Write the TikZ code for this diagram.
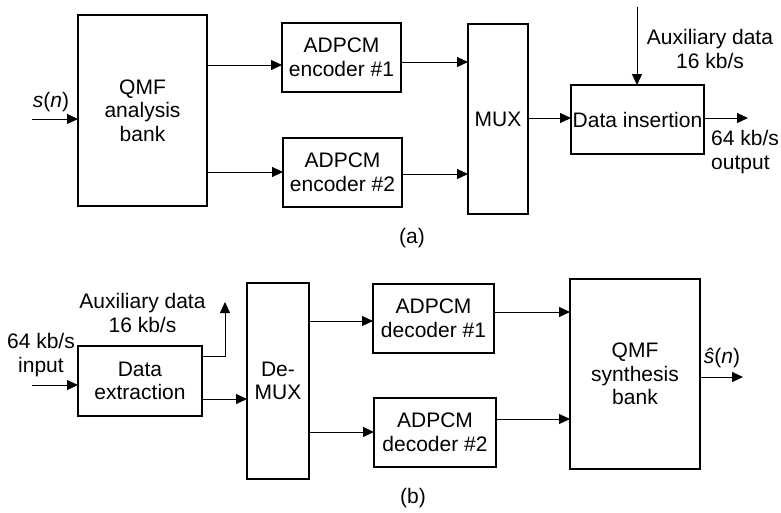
\documentclass[tikz,border=0pt]{standalone}
\usepackage{fontspec}
\setmainfont{Liberation Sans}
\usetikzlibrary{arrows.meta}
\newcommand{\fs}{\fontsize{21}{23.5}\selectfont}
\begin{document}
\begin{tikzpicture}[x=1pt,y=-1pt,
  box/.style={draw, line width=1.2pt, inner sep=0pt, outer sep=0pt, align=center, font=\fs},
  arr/.style={line width=1pt, -{Triangle[length=11pt,width=10pt]}},
  lbl/.style={inner sep=0pt, align=center, font=\fs}]
\useasboundingbox (0,0) rectangle (781,512);
% ---------- (a) ----------
\node[box, minimum width=129pt, minimum height=191pt] (qmfa) at (142.5,110.5) {QMF\\analysis\\bank};
\node[box, minimum width=119pt, minimum height=69pt] (enc1) at (341.5,57.5) {ADPCM\\encoder \#1};
\node[box, minimum width=119pt, minimum height=69pt] (enc2) at (342.5,172.5) {ADPCM\\encoder \#2};
\node[box, minimum width=60pt, minimum height=190pt] (mux) at (498,119) {MUX};
\node[box, minimum width=133pt, minimum height=69pt] (ins) at (637.5,119.5) {Data insertion};
\node[lbl] (sn) at (51,102) {\textit{s}(\textit{n})};
\node[lbl] (auxa) at (710,49) {Auxiliary data\\16 kb/s};
\node[lbl, align=left, anchor=west] (outa) at (711,152) {64 kb/s\\output};
\node[lbl] (capa) at (412,238) {(a)};
\coordinate (sin) at (32,119);
\coordinate (auxin) at (637,7);
\coordinate (aout) at (748,118);
\draw[arr] (sin) -- (qmfa.west |- sin);
\draw[arr] (qmfa.east |- 0,65) -- (enc1.west |- 0,65);
\draw[arr] (qmfa.east |- 0,172) -- (enc2.west |- 0,172);
\draw[arr] (enc1.east |- 0,62) -- (mux.west |- 0,62);
\draw[arr] (enc2.east |- 0,174) -- (mux.west |- 0,174);
\draw[arr] (mux.east |- 0,118) -- (ins.west |- 0,118);
\draw[arr] (auxin) -- (auxin |- ins.north);
\draw[arr] (ins.east |- aout) -- (aout);
% ---------- (b) ----------
\node[box, minimum width=124pt, minimum height=70pt] (ext) at (140,381) {Data\\extraction};
\node[box, minimum width=62pt, minimum height=196pt] (demux) at (278,381) {De-\\MUX};
\node[box, minimum width=121pt, minimum height=69pt] (dec1) at (433.5,318.5) {ADPCM\\decoder \#1};
\node[box, minimum width=122pt, minimum height=69pt] (dec2) at (435,432.5) {ADPCM\\decoder \#2};
\node[box, minimum width=130pt, minimum height=190pt] (qmfs) at (635,374) {QMF\\synthesis\\bank};
\node[lbl] (auxb) at (142.5,313) {Auxiliary data\\16 kb/s};
\node[lbl] (inb) at (41,355) {64 kb/s\\input};
\node[lbl] (shat) at (722,358) {\textit{ŝ}(\textit{n})};
\node[lbl] (capb) at (413,498) {(b)};
\coordinate (bin) at (32,385);
\coordinate (bauxt) at (225,302);
\coordinate (bout) at (743,377);
\draw[arr] (bin) -- (ext.west |- bin);
\draw[arr] (ext.east |- 0,356) -| (bauxt);
\draw[arr] (ext.east |- 0,399) -- (demux.west |- 0,399);
\draw[arr] (demux.east |- 0,321) -- (dec1.west |- 0,321);
\draw[arr] (demux.east |- 0,432) -- (dec2.west |- 0,432);
\draw[arr] (dec1.east |- 0,312) -- (qmfs.west |- 0,312);
\draw[arr] (dec2.east |- 0,419) -- (qmfs.west |- 0,419);
\draw[arr] (qmfs.east |- bout) -- (bout);
\end{tikzpicture}
\end{document}
